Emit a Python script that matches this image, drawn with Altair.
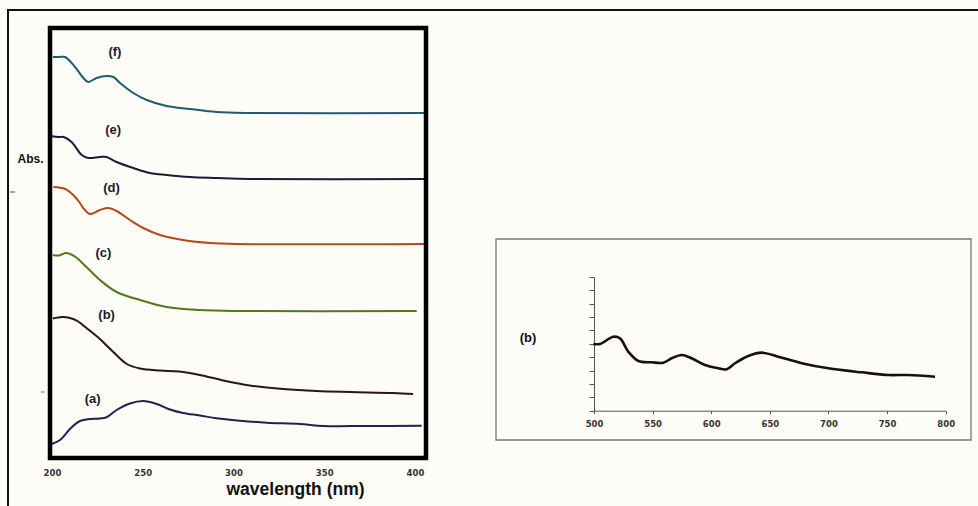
import altair as alt
import pandas as pd

# ---------------- data ----------------
series_names = ["a", "b", "c", "d", "e", "f"]
series_colors = ["#1c2452", "#2a1414", "#4f7a1c", "#b34a1c", "#1b1b33", "#1e5c72"]
series_widths = [2, 2, 3, 2, 2, 2]

wl_a = [199.8, 204.4, 209.9, 215.4, 220.9, 226.4, 229.8, 235.6, 243.0, 250.3, 257.7, 265.0,
        272.3, 281.5, 290.7, 303.6, 318.3, 336.6, 349.5, 373.4, 403.7]
abs_a = [0.15, 0.19, 0.30, 0.38, 0.40, 0.405, 0.415, 0.49, 0.555, 0.58, 0.55, 0.495,
         0.46, 0.435, 0.407, 0.383, 0.363, 0.35, 0.33, 0.33, 0.333]

wl_b = [200.5, 205.5, 210.0, 214.0, 219.0, 226.4, 233.8, 241.2, 248.5, 259.5, 270.0, 281.5,
        294.4, 309.0, 327.4, 345.8, 364.2, 388.0, 399.0]
abs_b = [1.405, 1.42, 1.41, 1.38, 1.31, 1.20, 1.07, 0.95, 0.905, 0.885, 0.875, 0.84,
         0.785, 0.735, 0.70, 0.68, 0.67, 0.66, 0.65]

wl_c = [200.5, 204.0, 207.5, 210.0, 213.0, 219.0, 226.4, 235.6, 248.5, 263.2, 281.5, 300.0, 401.0]
abs_c = [2.04, 2.035, 2.06, 2.05, 2.02, 1.92, 1.79, 1.67, 1.59, 1.52, 1.49, 1.48, 1.48]

wl_d = [200.7, 207.3, 211.7, 215.4, 217.2, 220.9, 226.4, 231.0, 235.6, 243.0, 250.3, 259.5,
        272.3, 287.0, 301.8, 406.0]
abs_d = [2.72, 2.70, 2.64, 2.56, 2.51, 2.45, 2.49, 2.51, 2.48, 2.39, 2.31, 2.24,
         2.19, 2.16, 2.15, 2.15]

wl_e = [199.5, 203.5, 206.5, 210.8, 216.4, 220.0, 226.4, 230.0, 235.6, 244.8, 254.0, 263.2,
        276.0, 290.7, 309.0, 406.0]
abs_e = [3.23, 3.22, 3.22, 3.17, 3.04, 3.01, 3.02, 3.02, 2.97, 2.91, 2.86, 2.84,
         2.82, 2.81, 2.80, 2.80]

wl_f = [200.5, 204.0, 207.2, 212.7, 217.3, 220.0, 224.6, 230.1, 233.8, 237.5, 244.8, 252.2,
        263.2, 276.0, 290.7, 309.0, 406.0]
abs_f = [4.02, 4.02, 4.02, 3.92, 3.81, 3.77, 3.81, 3.83, 3.82, 3.76, 3.66, 3.59,
         3.53, 3.50, 3.47, 3.46, 3.46]

label_text = ["(a)", "(b)", "(c)", "(d)", "(e)", "(f)"]
label_wl = [222.4, 230.1, 228.3, 232.8, 233.7, 234.7]
label_abs = [0.597, 1.44, 2.063, 2.707, 3.29, 4.073]

left_ticks = [200, 250, 300, 350, 400]

# right panel: spectrum (b) in the visible range
wl_r = [499.4, 505.1, 516.5, 522.2, 529.3, 537.8, 549.2, 559.1, 566.3, 574.8, 583.3, 594.7,
        606.0, 613.2, 620.3, 631.6, 643.1, 657.2, 677.2, 699.9, 728.4, 751.1, 768.1, 790.9]
abs_r = [4.99, 4.99, 5.53, 5.41, 4.41, 3.72, 3.62, 3.59, 3.92, 4.17, 3.92, 3.42,
         3.17, 3.10, 3.55, 4.09, 4.34, 4.04, 3.55, 3.17, 2.87, 2.67, 2.67, 2.54]
right_xticks = [500, 550, 600, 650, 700, 750, 800]
right_yticks = list(range(0, 11))

# ---------------- tables ----------------
rows = []
for name, wls, vals in zip(series_names,
                           [wl_a, wl_b, wl_c, wl_d, wl_e, wl_f],
                           [abs_a, abs_b, abs_c, abs_d, abs_e, abs_f]):
    for w, v in zip(wls, vals):
        rows.append({"series": name, "wl": w, "A": v})
left_df = pd.DataFrame(rows)
label_df = pd.DataFrame({"t": label_text, "wl": label_wl, "A": label_abs})
right_df = pd.DataFrame({"wl": wl_r, "A": abs_r})
one = pd.DataFrame({"d": [0]})

W, H = 376, 430
BG = "#fdfcf6"
LEFT_XDOM = [198.9, 406.1]
LEFT_YDOM = [0.01, 4.31]

curves = alt.Chart(left_df).mark_line(interpolate="catmull-rom").encode(
    x=alt.X("wl:Q", scale=alt.Scale(domain=LEFT_XDOM, nice=False, zero=False),
            axis=alt.Axis(orient="bottom", values=left_ticks, domain=False, ticks=False,
                          tickSize=0, grid=False, labelFlush=False, labelOverlap=False,
                          labelFont="DejaVu Sans", labelFontSize=8.5, labelFontWeight="bold",
                          labelColor="#333333", labelPadding=10,
                          title="wavelength (nm)", titleFont="Liberation Sans",
                          titleFontSize=17.5, titleFontWeight="bold", titleColor="#111111",
                          titleX=245, titleY=31, titleAlign="center",
                          titleBaseline="middle")),
    y=alt.Y("A:Q", scale=alt.Scale(domain=LEFT_YDOM, nice=False, zero=False),
            axis=alt.Axis(orient="left", domain=False, ticks=False, labels=False, grid=False,
                          title="Abs.", titleAngle=0, titleX=-20, titleY=130,
                          titleAlign="center", titleBaseline="middle",
                          titleFont="Liberation Sans", titleFontSize=12,
                          titleFontWeight="bold", titleColor="#111111")),
    color=alt.Color("series:N", scale=alt.Scale(domain=series_names, range=series_colors),
                    legend=None),
    strokeWidth=alt.StrokeWidth("series:N",
                                scale=alt.Scale(domain=series_names, range=series_widths),
                                legend=None),
)

labels = alt.Chart(label_df).mark_text(font="Liberation Sans", fontSize=13,
                                       fontWeight="bold", color="#1a1a2e").encode(
    x=alt.X("wl:Q", scale=alt.Scale(domain=LEFT_XDOM, nice=False, zero=False), axis=None),
    y=alt.Y("A:Q", scale=alt.Scale(domain=LEFT_YDOM, nice=False, zero=False), axis=None),
    text="t:N",
)

right_line = alt.Chart(right_df).mark_line(interpolate="catmull-rom", strokeWidth=2.6,
                                           color="#1a0f0f").encode(
    x=alt.X("wl:Q", scale=alt.Scale(domain=[500, 800], range=[544, 895.7], nice=False, zero=False),
            axis=alt.Axis(orient="bottom", offset=-47.3, values=right_xticks, grid=False,
                          tickSize=3, tickColor="#555555", domainColor="#555555",
                          labelFlush=False, labelOverlap=False,
                          labelFont="DejaVu Sans", labelFontSize=8.5, labelFontWeight="bold",
                          labelColor="#333333", labelPadding=6, title=None)),
    y=alt.Y("A:Q", scale=alt.Scale(domain=[0, 10], range=[382.7, 249], nice=False, zero=False),
            axis=alt.Axis(orient="left", offset=-544, values=right_yticks, grid=False,
                          tickSize=5, tickColor="#555555", domainColor="#555555",
                          labels=False, title=None)),
)

right_label = alt.Chart(one).mark_text(font="Liberation Sans", fontSize=13,
                                       fontWeight="bold", color="#111111").encode(
    x=alt.value(478), y=alt.value(310), text=alt.value("(b)"))

# ---------------- decorations ----------------
outer_left = alt.Chart(one).mark_rule(color="#111111", strokeWidth=2).encode(
    x=alt.value(-42), y=alt.value(-18), y2=alt.value(480))
outer_top = alt.Chart(one).mark_rule(color="#111111", strokeWidth=2).encode(
    x=alt.value(-43), x2=alt.value(930), y=alt.value(-18))
dash1 = alt.Chart(one).mark_rule(color="#444444", strokeWidth=1).encode(
    x=alt.value(-40), x2=alt.value(-35), y=alt.value(164))
dash2 = alt.Chart(one).mark_rule(color="#777777", strokeWidth=1).encode(
    x=alt.value(-9), x2=alt.value(-5), y=alt.value(364))
right_box = alt.Chart(one).mark_rect(fillOpacity=0, stroke="#777777", strokeWidth=1.3).encode(
    x=alt.value(446), x2=alt.value(921), y=alt.value(211), y2=alt.value(412))
frame = alt.Chart(one).mark_rect(fillOpacity=0, stroke="#000000", strokeWidth=4.5).encode(
    x=alt.value(0), x2=alt.value(W), y=alt.value(0), y2=alt.value(H))

chart = alt.layer(outer_left, outer_top, dash1, dash2, right_box, curves, labels, right_line,
                  right_label, frame).resolve_scale(
    x="independent", y="independent"
).properties(
    width=W, height=H,
    autosize=alt.AutoSizeParams(type="none"),
    padding={"left": 50, "top": 28, "right": 978 - 50 - W, "bottom": 506 - 28 - H},
).configure(background=BG).configure_view(stroke=None)

chart.save("out.html", embed_options={"renderer": "svg", "actions": False})
